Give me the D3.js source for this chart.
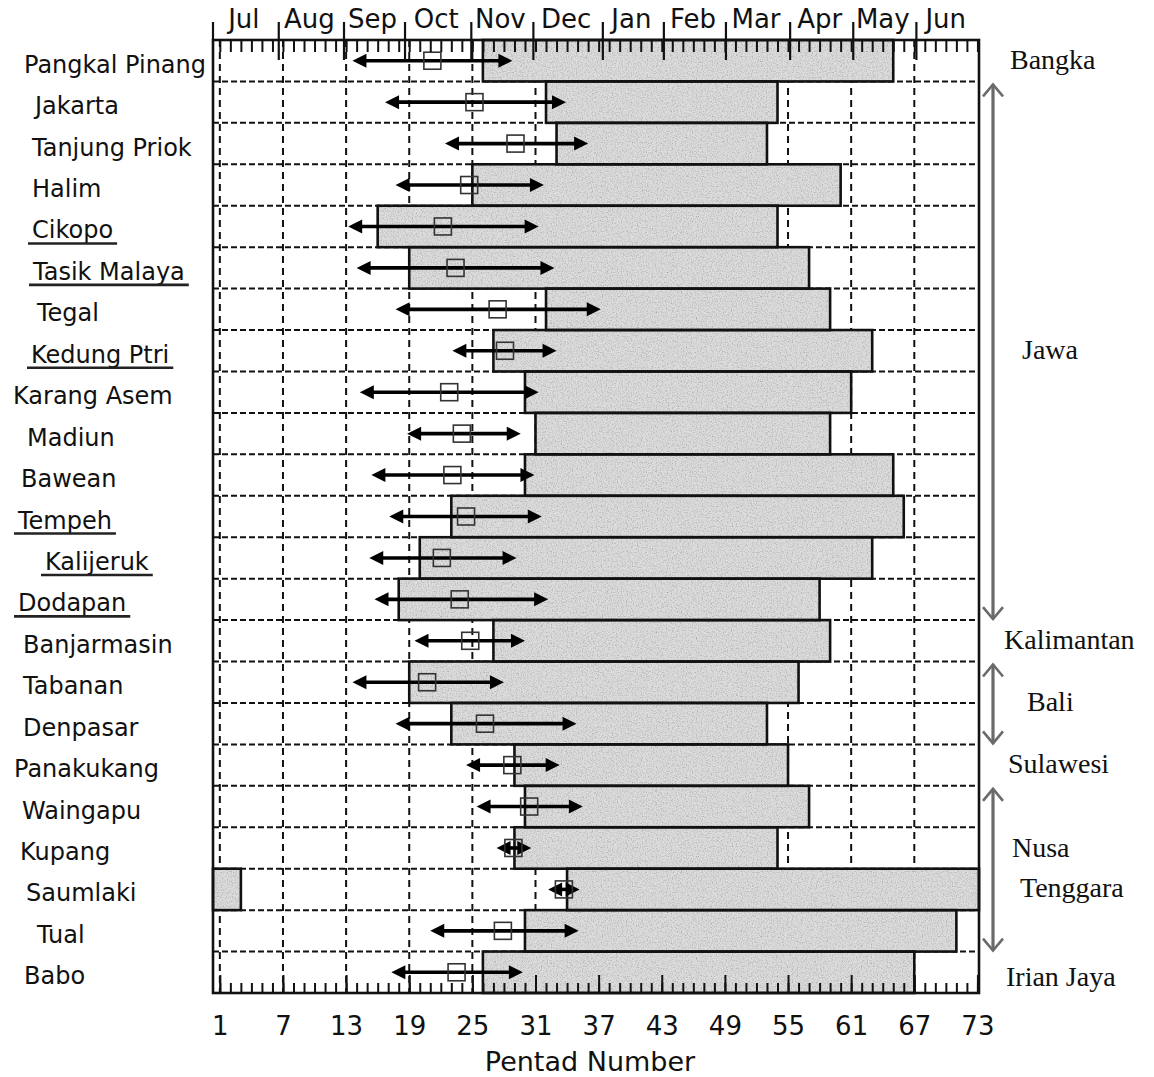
<!DOCTYPE html>
<html>
<head>
<meta charset="utf-8">
<script src="https://cdn.jsdelivr.net/npm/d3@7/dist/d3.min.js"></script>
<style>
  html, body { margin: 0; padding: 0; background: #fff; }
  svg { display: block; }
</style>
</head>
<body>
<svg id="chart" width="1154" height="1077"></svg>
<script>
// Stations, top to bottom
const stations = [
  "Pangkal Pinang", "Jakarta", "Tanjung Priok", "Halim", "Cikopo", "Tasik Malaya",
  "Tegal", "Kedung Ptri", "Karang Asem", "Madiun", "Bawean", "Tempeh", "Kalijeruk",
  "Dodapan", "Banjarmasin", "Tabanan", "Denpasar", "Panakukang", "Waingapu",
  "Kupang", "Saumlaki", "Tual", "Babo"
];
const underlinedStations = ["Cikopo", "Tasik Malaya", "Kedung Ptri", "Tempeh", "Kalijeruk", "Dodapan"];

// Wet season: first and last pentad (values past 73 continue into the next year)
const wetStart = [26, 32, 33, 25, 16, 19, 32, 27, 30, 31, 30, 23, 20, 18, 27, 19, 23, 29, 30, 29, 34, 30, 26];
const wetEnd   = [65, 54, 53, 60, 54, 57, 59, 63, 61, 59, 65, 66, 63, 58, 59, 56, 53, 55, 57, 54, 76, 71, 67];

// Onset: range (arrow) and mean (square), in pentads
const onsetEarly = [13.6, 16.7, 22.4, 17.7, 13.2, 14.0, 17.7, 23.1, 14.3, 18.8, 15.4, 17.1, 15.2, 15.7, 19.5, 13.6, 17.7, 24.4, 25.4, 27.3, 32.2, 21.0, 17.3];
const onsetLate  = [28.8, 33.9, 36.0, 31.8, 31.3, 32.8, 37.2, 33.0, 31.3, 29.6, 30.9, 31.6, 29.2, 32.2, 30.0, 28.0, 34.9, 33.3, 35.5, 30.6, 35.2, 35.1, 29.8];
const onsetMean  = [21.2, 25.2, 29.1, 24.7, 22.2, 23.4, 27.4, 28.1, 22.8, 24.0, 23.1, 24.4, 22.1, 23.8, 24.8, 20.7, 26.2, 28.8, 30.4, 28.9, 33.7, 27.9, 23.5];

// Axis annotations
const pentadTicks = [1, 7, 13, 19, 25, 31, 37, 43, 49, 55, 61, 67, 73];
const months = ["Jul", "Aug", "Sep", "Oct", "Nov", "Dec", "Jan", "Feb", "Mar", "Apr", "May", "Jun"];
const monthEdges = [6.6, 12.8, 18.6, 24.9, 30.8, 37.4, 43.2, 49.1, 55.2, 61.2, 67.2];

// Island groups: label lines, first and last station row
const regionNames = [["Bangka"], ["Jawa"], ["Kalimantan"], ["Bali"], ["Sulawesi"], ["Nusa", "Tenggara"], ["Irian Jaya"]];
const regionFirst = [0, 1, 14, 15, 17, 18, 22];
const regionLast  = [0, 13, 14, 16, 17, 21, 22];

// ---- layout ----
const plot = { left: 213, right: 979, top: 40, bottom: 993 };
const labelIndent = [24, 35, 32, 32, 32, 33, 37, 31, 13, 27, 21, 18, 45, 18, 23, 23, 23, 14, 22, 20, 26, 37, 24];
const regionIndent = [[1010], [1022], [1004], [1027], [1008], [1012, 1020], [1006]];

const svg = d3.select("#chart");
const x = d3.scaleLinear().domain([0.35, 73.15]).range([plot.left, plot.right]);
const y = d3.scaleBand().domain(stations).range([plot.top, plot.bottom]).padding(0);
const bw = y.bandwidth();
const [xMin, xMax] = x.domain();

const sansFont = "'DejaVu Sans', sans-serif";
const serifFont = "'Liberation Serif', 'DejaVu Serif', serif";

// Grain texture for the shaded bars
const defs = svg.append("defs");
const f = defs.append("filter").attr("id", "stipple")
  .attr("x", "0%").attr("y", "0%").attr("width", "100%").attr("height", "100%");
f.append("feTurbulence").attr("type", "fractalNoise").attr("baseFrequency", 0.8)
  .attr("numOctaves", 2).attr("seed", 4).attr("result", "noise");
f.append("feColorMatrix").attr("in", "noise").attr("type", "matrix")
  .attr("values", "0 0 0 0 0.35  0 0 0 0 0.35  0 0 0 0 0.35  2.0 0 0 0 -0.9")
  .attr("result", "dots");
f.append("feComposite").attr("in", "dots").attr("in2", "SourceGraphic")
  .attr("operator", "in").attr("result", "clipped");
const fm = f.append("feMerge");
fm.append("feMergeNode").attr("in", "SourceGraphic");
fm.append("feMergeNode").attr("in", "clipped");

// ---- grid ----
const grid = svg.append("g").attr("stroke", "#111").attr("stroke-width", 2).attr("fill", "none");
grid.selectAll("line.v").data(pentadTicks.filter(p => p < 73)).join("line")
  .attr("class", "v")
  .attr("x1", d => x(d)).attr("x2", d => x(d))
  .attr("y1", plot.top).attr("y2", plot.bottom)
  .attr("stroke-dasharray", "7,5");
grid.selectAll("line.h").data(stations.slice(1)).join("line")
  .attr("class", "h")
  .attr("x1", plot.left).attr("x2", plot.right)
  .attr("y1", d => y(d)).attr("y2", d => y(d))
  .attr("stroke-dasharray", "6,3");

// ---- wet-season bars ----
const segments = [];
stations.forEach((s, i) => {
  const a = wetStart[i], b = wetEnd[i];
  if (b > 73) {
    segments.push({ s, from: a, to: xMax });
    segments.push({ s, from: xMin, to: b - 73 });
  } else {
    segments.push({ s, from: a, to: b });
  }
});
const bars = svg.append("g");
bars.selectAll("rect.fill").data(segments).join("rect")
  .attr("class", "fill")
  .attr("x", d => x(d.from)).attr("width", d => x(d.to) - x(d.from))
  .attr("y", d => y(d.s)).attr("height", bw)
  .attr("fill", "#dcdcdc").attr("filter", "url(#stipple)");
bars.selectAll("rect.edge").data(segments).join("rect")
  .attr("class", "edge")
  .attr("x", d => x(d.from)).attr("width", d => x(d.to) - x(d.from))
  .attr("y", d => y(d.s)).attr("height", bw)
  .attr("fill", "none").attr("stroke", "#111").attr("stroke-width", 2.6);

// ---- onset arrows with mean markers ----
const head = 14, half = 7;
const arrows = svg.append("g");
stations.forEach((s, i) => {
  const cy = y(s) + bw / 2;
  const x0 = x(onsetEarly[i]), x1 = x(onsetLate[i]);
  const g = arrows.append("g");
  g.append("line")
    .attr("x1", x0 + head - 2).attr("x2", x1 - head + 2)
    .attr("y1", cy).attr("y2", cy)
    .attr("stroke", "#000").attr("stroke-width", 3.6);
  g.append("path")
    .attr("d", `M${x0},${cy} L${x0 + head},${cy - half} L${x0 + head},${cy + half} Z`)
    .attr("fill", "#000");
  g.append("path")
    .attr("d", `M${x1},${cy} L${x1 - head},${cy - half} L${x1 - head},${cy + half} Z`)
    .attr("fill", "#000");
  g.append("rect")
    .attr("x", x(onsetMean[i]) - 8.5).attr("y", cy - 8.5)
    .attr("width", 17).attr("height", 17)
    .attr("fill", "none").attr("stroke", "#333").attr("stroke-width", 1.6);
});

// ---- frame and axes ----
svg.append("rect")
  .attr("x", plot.left).attr("y", plot.top)
  .attr("width", plot.right - plot.left).attr("height", plot.bottom - plot.top)
  .attr("fill", "none").attr("stroke", "#111").attr("stroke-width", 2.6);

// top: one tick per pentad, pointing into the plot
const topAxis = svg.append("g").attr("transform", `translate(0,${plot.top})`)
  .call(d3.axisTop(x).tickValues(d3.range(1, 74)).tickSize(-12).tickFormat(""));
topAxis.select(".domain").remove();
topAxis.selectAll("line").attr("stroke", "#111").attr("stroke-width", 2);

// month boundaries cross the top edge
svg.append("g").selectAll("line").data([xMin, ...monthEdges]).join("line")
  .attr("x1", d => x(d)).attr("x2", d => x(d))
  .attr("y1", plot.top - 18).attr("y2", d => d === xMin ? plot.top : plot.top + 20)
  .attr("stroke", "#111").attr("stroke-width", 2.2);

const edgesAll = [xMin, ...monthEdges, xMax];
svg.append("g").selectAll("text").data(months).join("text")
  .attr("x", (d, i) => (x(edgesAll[i]) + x(edgesAll[i + 1])) / 2 - 2)
  .attr("y", 28)
  .attr("text-anchor", "middle")
  .attr("font-family", sansFont).attr("font-size", 26).attr("fill", "#111")
  .text(d => d);

// bottom: minor pentad ticks and labelled major ticks
const botMinor = svg.append("g").attr("transform", `translate(0,${plot.bottom})`)
  .call(d3.axisBottom(x).tickValues(d3.range(1, 74)).tickSize(-10).tickFormat(""));
botMinor.select(".domain").remove();
botMinor.selectAll("line").attr("stroke", "#111").attr("stroke-width", 2);

const botMajor = svg.append("g").attr("transform", `translate(0,${plot.bottom})`)
  .call(d3.axisBottom(x).tickValues(pentadTicks).tickSize(-18).tickPadding(24).tickFormat(d3.format("d")));
botMajor.select(".domain").remove();
botMajor.selectAll("line").attr("stroke", "#111").attr("stroke-width", 2);
botMajor.selectAll("text")
  .attr("font-family", sansFont).attr("font-size", 26).attr("fill", "#111");

svg.append("text")
  .attr("x", (plot.left + plot.right) / 2 - 6).attr("y", 1071)
  .attr("text-anchor", "middle")
  .attr("font-family", sansFont).attr("font-size", 27).attr("fill", "#111")
  .text("Pentad Number");

// ---- station labels ----
const labels = svg.append("g");
stations.forEach((s, i) => {
  const base = y(s) + bw / 2 + 12;
  const t = labels.append("text")
    .attr("x", labelIndent[i]).attr("y", base)
    .attr("font-family", sansFont).attr("font-size", 24).attr("fill", "#111")
    .text(s);
  if (underlinedStations.includes(s)) {
    const w = t.node().getComputedTextLength();
    labels.append("line")
      .attr("x1", labelIndent[i] - 4).attr("x2", labelIndent[i] + w + 4)
      .attr("y1", base + 5).attr("y2", base + 5)
      .attr("stroke", "#222").attr("stroke-width", 2.6);
  }
});

// ---- island groups on the right ----
const gx = 993;
const groups = svg.append("g");
regionNames.forEach((lines, k) => {
  const top = y(stations[regionFirst[k]]);
  const bot = y(stations[regionLast[k]]) + bw;
  const mid = (top + bot) / 2;
  if (regionLast[k] > regionFirst[k]) {
    const t0 = top + 3, t1 = bot - 1;
    groups.append("line").attr("x1", gx).attr("x2", gx).attr("y1", t0).attr("y2", t1)
      .attr("stroke", "#6a6a6a").attr("stroke-width", 3.2);
    groups.append("path")
      .attr("d", `M${gx - 10},${t0 + 12} L${gx},${t0} L${gx + 10},${t0 + 12} M${gx - 10},${t1 - 12} L${gx},${t1} L${gx + 10},${t1 - 12}`)
      .attr("fill", "none").attr("stroke", "#6a6a6a").attr("stroke-width", 2.6);
  }
  const n = lines.length;
  lines.forEach((ln, j) => {
    groups.append("text")
      .attr("x", regionIndent[k][j])
      .attr("y", mid + 8 + (j - (n - 1) / 2) * 40 + (k === regionNames.length - 1 ? 6 : 0))
      .attr("font-family", serifFont).attr("font-size", 28).attr("fill", "#111")
      .text(ln);
  });
});
</script>
</body>
</html>
